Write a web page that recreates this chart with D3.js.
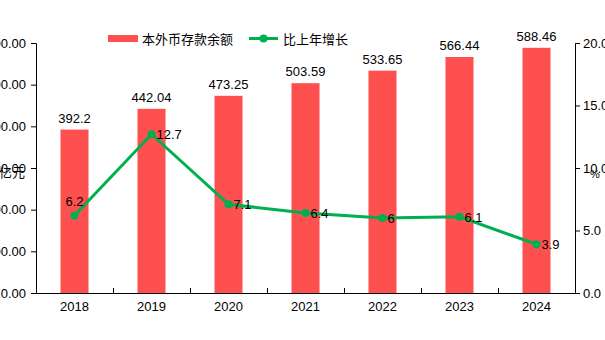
<!DOCTYPE html>
<html><head><meta charset="utf-8">
<script src="https://cdn.jsdelivr.net/npm/d3@7/dist/d3.min.js"></script>
<style>body{margin:0;background:#fff}svg{display:block;font-family:"Liberation Sans","Noto Sans CJK SC",sans-serif}</style>
</head><body>
<svg id="c" width="605" height="340"></svg>
<script>
const categories = ["2018","2019","2020","2021","2022","2023","2024"];
const deposits = [392.2, 442.04, 473.25, 503.59, 533.65, 566.44, 588.46];
const growth = [6.2, 12.7, 7.1, 6.4, 6, 6.1, 3.9];
const leftTicks = [0,100,200,300,400,500,600];
const rightTicks = [0,5,10,15,20];
const seriesNames = ["本外币存款余额","比上年增长"];
const leftUnit = "亿元", rightUnit = "%";

const svg = d3.select("#c");
const L = 36, R = 575, T = 43, B = 293;
const red = "#FF5050", green = "#00B050";
const x = d3.scaleBand().domain(categories).range([L, R]).paddingInner(0.636).paddingOuter(0.318);
const xc = d3.scaleBand().domain(categories).range([L, R]);
const yl = d3.scaleLinear().domain([0,600]).range([B, T]);
const yr = d3.scaleLinear().domain([0,20]).range([B, T]);

// bars
svg.selectAll("rect.bar").data(deposits).enter().append("rect")
  .attr("x",(d,i)=>x(categories[i])).attr("width",x.bandwidth())
  .attr("y",d=>yl(d)).attr("height",d=>B-yl(d)).attr("fill",red);
svg.selectAll("text.bl").data(deposits).enter().append("text")
  .attr("x",(d,i)=>xc(categories[i])+xc.bandwidth()/2).attr("y",d=>yl(d)-7)
  .attr("text-anchor","middle").attr("font-size",13).attr("fill","#000").text(d=>d);

// axes
const ax = svg.append("g").attr("transform",`translate(0,${B})`)
  .call(d3.axisBottom(xc).tickSize(0).tickPadding(9));
ax.select(".domain").attr("stroke","#000");
ax.selectAll("text").attr("font-size",13).attr("fill","#000").attr("font-family","Liberation Sans");
// inner separators
svg.selectAll("line.sep").data(categories.slice(1)).enter().append("line")
  .attr("x1",d=>xc(d)+0.5).attr("x2",d=>xc(d)+0.5).attr("y1",B).attr("y2",B-5).attr("stroke","#000");

const ay = svg.append("g").attr("transform",`translate(${L},0)`)
  .call(d3.axisLeft(yl).tickValues(leftTicks).tickFormat(d3.format(".2f")).tickSize(5).tickPadding(5));
ay.selectAll("text").attr("font-size",13).attr("fill","#000").attr("font-family","Liberation Sans");
ay.selectAll("line,.domain").attr("stroke","#000");

const ar = svg.append("g").attr("transform",`translate(${R},0)`)
  .call(d3.axisRight(yr).tickValues(rightTicks).tickFormat(d3.format(".1f")).tickSize(5).tickPadding(3));
ar.selectAll("text").attr("font-size",13).attr("fill","#000").attr("font-family","Liberation Sans");
ar.selectAll("line,.domain").attr("stroke","#000");

svg.append("text").attr("x",-1).attr("y",177).attr("font-size",13).attr("font-family","Noto Sans CJK SC").text(leftUnit);
svg.append("text").attr("x",590).attr("y",178).attr("font-size",11).text(rightUnit);

// line
const line = d3.line().x((d,i)=>xc(categories[i])+xc.bandwidth()/2).y(d=>yr(d));
svg.append("path").datum(growth).attr("d",line).attr("fill","none").attr("stroke",green).attr("stroke-width",3);
svg.selectAll("circle.pt").data(growth).enter().append("circle")
  .attr("cx",(d,i)=>xc(categories[i])+xc.bandwidth()/2).attr("cy",d=>yr(d)).attr("r",4).attr("fill",green);
svg.selectAll("text.gl").data(growth).enter().append("text")
  .attr("x",(d,i)=>xc(categories[i])+xc.bandwidth()/2 + (i===0?0:5))
  .attr("y",(d,i)=>i===0? yr(d)-10 : yr(d)+5)
  .attr("text-anchor",(d,i)=>i===0?"middle":"start")
  .attr("font-size",13).attr("fill","#000").text(d=>d);

// legend
svg.append("rect").attr("x",108).attr("y",35).attr("width",30).attr("height",7).attr("fill",red);
svg.append("text").attr("x",142).attr("y",43.5).attr("font-size",13).attr("font-family","Noto Sans CJK SC").text(seriesNames[0]);
svg.append("line").attr("x1",249).attr("x2",278).attr("y1",38.5).attr("y2",38.5).attr("stroke",green).attr("stroke-width",3);
svg.append("circle").attr("cx",263.5).attr("cy",38.5).attr("r",4).attr("fill",green);
svg.append("text").attr("x",283).attr("y",43.5).attr("font-size",13).attr("font-family","Noto Sans CJK SC").text(seriesNames[1]);
</script>
</body></html>
